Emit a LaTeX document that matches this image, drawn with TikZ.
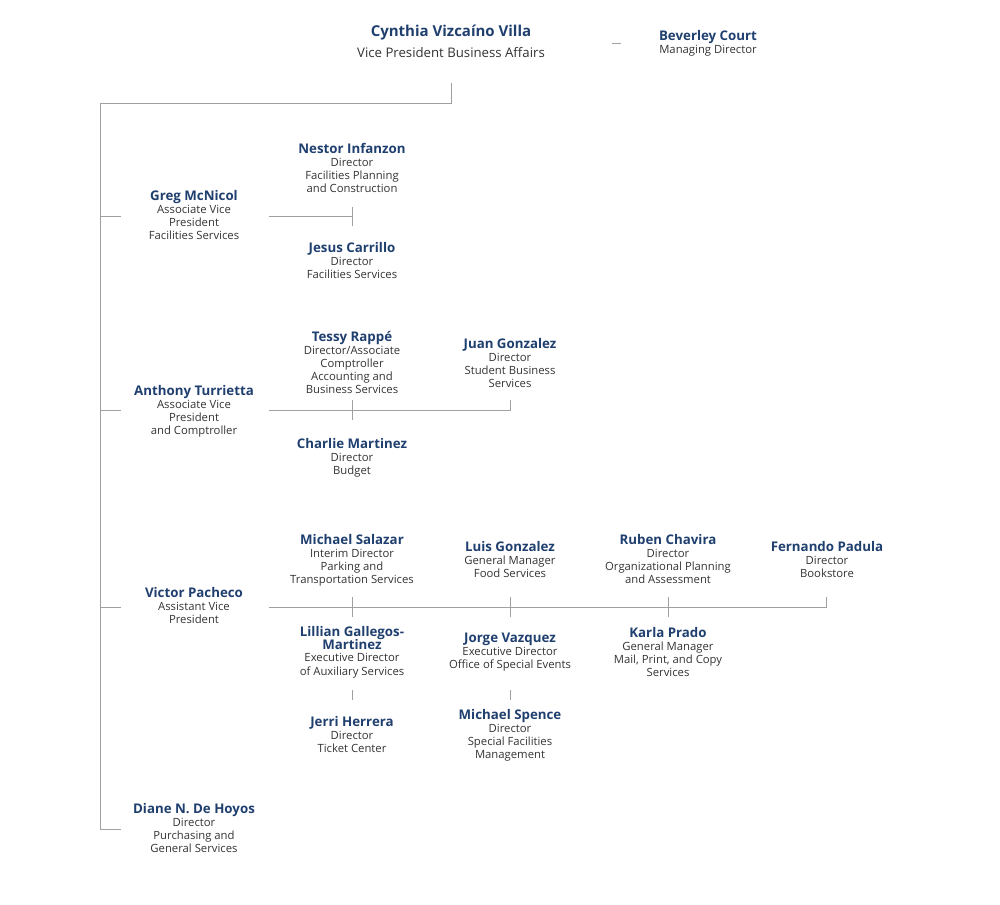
\documentclass[tikz,border=0pt]{standalone}
\usepackage{fontspec}
\setmainfont{Open Sans}
\definecolor{nameblue}{HTML}{1F3F6F}
\definecolor{titlegray}{HTML}{333333}
\definecolor{linegray}{HTML}{A0A0A0}
\newcommand{\pn}[1]{{\fontsize{13.3}{13}\selectfont\bfseries\color{nameblue}#1}}
\begin{document}
\begin{tikzpicture}[x=1pt,y=-1pt,
  person/.style={anchor=north,align=center,inner sep=0pt,text=titlegray,font=\fontsize{11.3}{13.2}\selectfont},
  conn/.style={draw=linegray,line width=0.9pt}]
\useasboundingbox (0,0) rectangle (1000,904);
% top
\node[anchor=north,align=center,inner sep=0pt,text=titlegray,font=\fontsize{13.2}{20.5}\selectfont] (cvv) at (451,25)
  {{\fontsize{15}{15}\selectfont\bfseries\color{nameblue}Cynthia Vizcaíno Villa}\\Vice President Business Affairs};
\node[person] (bc) at (708,30) {\pn{Beverley Court}\\[-0.5pt]Managing Director};
\coordinate (d1) at (612,43); \coordinate (d2) at (621,43);
\draw[conn] (d1) -- (d2);
% main trunk
\coordinate (t0) at (451,83); \coordinate (t1) at (451,103); \coordinate (t2) at (100,103); \coordinate (t3) at (100,829);
\draw[conn] (t0) -- (t1) -- (t2) -- (t3);
% level 2
\node[person] (greg) at (194,190) {\pn{Greg McNicol}\\[-0.5pt]Associate Vice\\President\\Facilities Services};
\node[person] (anth) at (194,385) {\pn{Anthony Turrietta}\\[-0.5pt]Associate Vice\\President\\and Comptroller};
\node[person] (vict) at (194,587) {\pn{Victor Pacheco}\\[-0.5pt]Assistant Vice\\President};
\node[person] (dian) at (194,803) {\pn{Diane N. De Hoyos}\\[-0.5pt]Director\\Purchasing and\\General Services};
\foreach \yy/\n in {216/g,410/a,607/v,829/d}{
  \coordinate (s\n) at (100,\yy); \coordinate (e\n) at (121,\yy);
  \draw[conn] (s\n) -- (e\n);}
% Greg branch
\node[person] (nest) at (352,143) {\pn{Nestor Infanzon}\\[-0.5pt]Director\\Facilities Planning\\and Construction};
\node[person] (jesu) at (352,242) {\pn{Jesus Carrillo}\\[-0.5pt]Director\\Facilities Services};
\coordinate (g1) at (269,216); \coordinate (g2) at (352,216);
\coordinate (g3) at (352,207); \coordinate (g4) at (352,226);
\draw[conn] (g1) -- (g2); \draw[conn] (g3) -- (g4);
% Anthony branch
\node[person] (tess) at (352,331) {\pn{Tessy Rappé}\\[-0.5pt]Director/Associate\\Comptroller\\Accounting and\\Business Services};
\node[person] (juan) at (510,338) {\pn{Juan Gonzalez}\\[-0.5pt]Director\\Student Business\\Services};
\node[person] (char) at (352,438) {\pn{Charlie Martinez}\\[-0.5pt]Director\\Budget};
\coordinate (a1) at (269,410); \coordinate (a2) at (510,410); \coordinate (a3) at (510,400);
\coordinate (a4) at (352,400); \coordinate (a5) at (352,420);
\draw[conn] (a1) -- (a2) -- (a3); \draw[conn] (a4) -- (a5);
% Victor branch
\node[person] (msal) at (352,534) {\pn{Michael Salazar}\\[-0.5pt]Interim Director\\Parking and\\Transportation Services};
\node[person] (lill) at (352,626) {\pn{Lillian Gallegos-}\\[-1.5pt]\pn{Martinez}\\[-0.5pt]Executive Director\\of Auxiliary Services};
\node[person] (jerr) at (352,716) {\pn{Jerri Herrera}\\[-0.5pt]Director\\Ticket Center};
\node[person] (luis) at (510,541) {\pn{Luis Gonzalez}\\[-0.5pt]General Manager\\Food Services};
\node[person] (jorg) at (510,633) {\pn{Jorge Vazquez}\\[-0.5pt]Executive Director\\Office of Special Events};
\node[person] (mspe) at (510,709) {\pn{Michael Spence}\\[-0.5pt]Director\\Special Facilities\\Management};
\node[person] (rube) at (668,534) {\pn{Ruben Chavira}\\[-0.5pt]Director\\Organizational Planning\\and Assessment};
\node[person] (karl) at (668,627) {\pn{Karla Prado}\\[-0.5pt]General Manager\\Mail, Print, and Copy\\Services};
\node[person] (fern) at (827,541) {\pn{Fernando Padula}\\[-0.5pt]Director\\Bookstore};
\coordinate (v1) at (269,607); \coordinate (v2) at (826,607); \coordinate (v3) at (826,597);
\draw[conn] (v1) -- (v2) -- (v3);
\foreach \xx/\n in {352/p,510/q,668/r}{
  \coordinate (u\n) at (\xx,597); \coordinate (w\n) at (\xx,617);
  \draw[conn] (u\n) -- (w\n);}
\foreach \xx/\n in {352/p,510/q}{
  \coordinate (x\n) at (\xx,690); \coordinate (z\n) at (\xx,700);
  \draw[conn] (x\n) -- (z\n);}
\end{tikzpicture}
\end{document}
